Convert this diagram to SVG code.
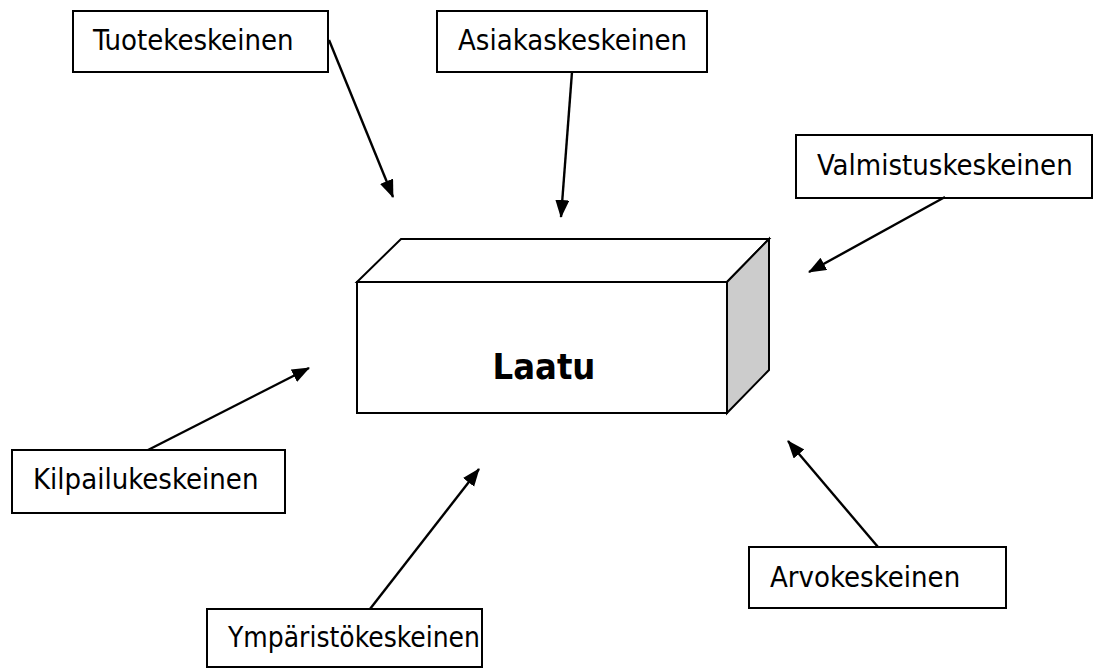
<svg xmlns="http://www.w3.org/2000/svg" width="1095" height="668" viewBox="0 0 1095 668">
<style>
.box{fill:#fff;stroke:#000;stroke-width:2}
.lbl{font-family:"DejaVu Sans Condensed","DejaVu Sans",sans-serif;font-stretch:condensed;font-size:29px;fill:#000}
.conn{stroke:#000;stroke-width:2.4;fill:none;marker-end:url(#ah)}
</style>
<defs>
<marker id="ah" markerUnits="userSpaceOnUse" markerWidth="20" markerHeight="16" refX="17" refY="7" orient="auto">
<path d="M0,0 L18,7 L0,14 Z" fill="#000"/>
</marker>
</defs>
<rect width="1095" height="668" fill="#fff"/>
<g id="laatu">
<polygon points="357,282 401,239 769,239 727,282" fill="#fff" stroke="#000" stroke-width="2"/>
<polygon points="727,282 769,239 769,370 727,413" fill="#cccccc" stroke="#000" stroke-width="2"/>
<rect x="357" y="282" width="370" height="131" class="box"/>
<text x="544" y="379" text-anchor="middle" style="font-family:'DejaVu Sans Condensed','DejaVu Sans',sans-serif;font-stretch:condensed;font-weight:bold;font-size:36px">Laatu</text>
</g>
<g id="tuote">
<rect x="73" y="11" width="255" height="61" class="box"/>
<text x="93" y="50" class="lbl">Tuotekeskeinen</text>
</g>
<g id="asiakas">
<rect x="437" y="11" width="270" height="61" class="box"/>
<text x="458" y="50" class="lbl">Asiakaskeskeinen</text>
</g>
<g id="valmistus">
<rect x="796" y="135" width="296" height="63" class="box"/>
<text x="817" y="175" class="lbl">Valmistuskeskeinen</text>
</g>
<g id="kilpailu">
<rect x="12" y="450" width="273" height="63" class="box"/>
<text x="33" y="489" class="lbl">Kilpailukeskeinen</text>
</g>
<g id="ymparisto">
<rect x="207" y="609" width="275" height="58" class="box"/>
<text x="228" y="647" class="lbl" textLength="252" lengthAdjust="spacingAndGlyphs">Ympäristökeskeinen</text>
</g>
<g id="arvo">
<rect x="749" y="547" width="257" height="61" class="box"/>
<text x="770" y="587" class="lbl">Arvokeskeinen</text>
</g>
<g id="connectors">
<line x1="329" y1="40" x2="393" y2="197" class="conn"/>
<line x1="572" y1="72" x2="561" y2="217" class="conn"/>
<line x1="945" y1="197" x2="809" y2="272" class="conn"/>
<line x1="148" y1="450" x2="309" y2="368" class="conn"/>
<line x1="370" y1="609" x2="479" y2="469" class="conn"/>
<line x1="878" y1="547" x2="788" y2="441" class="conn"/>
</g>
</svg>
